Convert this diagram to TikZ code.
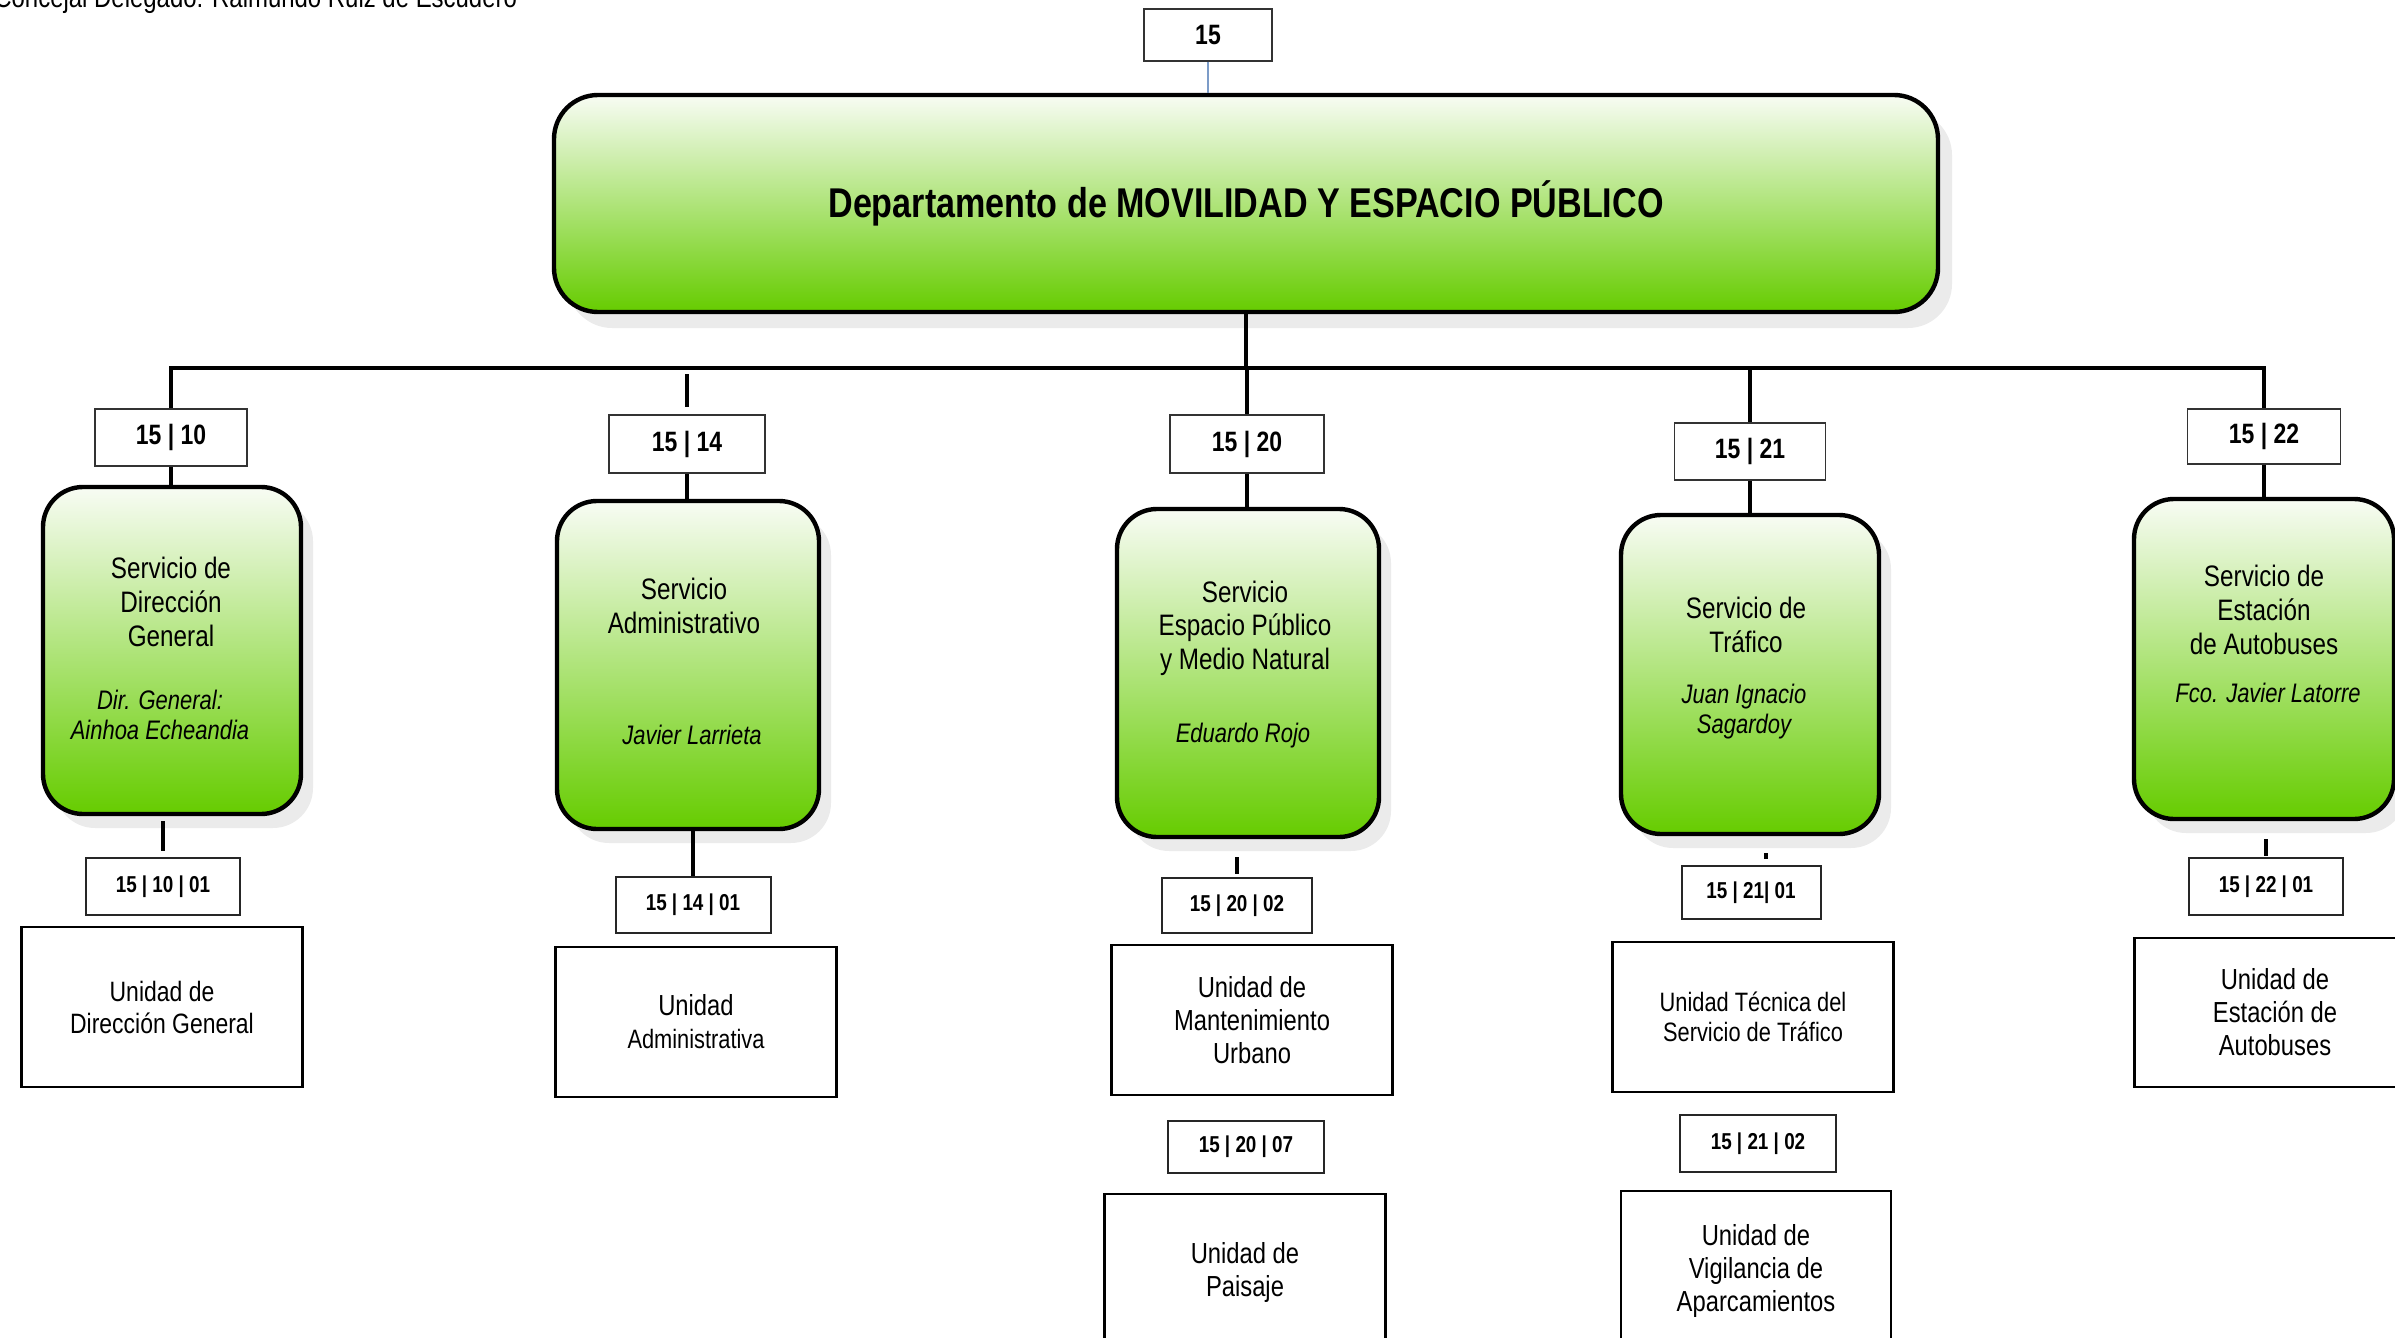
\documentclass[tikz,border=0pt]{standalone}
\usepackage{fontspec}
\setmainfont{Liberation Sans}[FakeStretch=0.82]
\usetikzlibrary{shadows}
\definecolor{gtop}{HTML}{F8FCF4}
\definecolor{gbot}{HTML}{66CC00}
\definecolor{shd}{HTML}{EBEBEB}
\definecolor{bluel}{HTML}{7C9CC8}
\tikzset{
 conn/.style={line width=2.2pt, black},
 gbox/.style={draw=black, line width=2.2pt, rounded corners=20pt, top color=gtop, bottom color=gbot,
   drop shadow={shadow xshift=6pt, shadow yshift=-7pt, fill=shd, opacity=1}},
 codebox/.style={draw=black!80, line width=0.75pt, fill=white, font=\bfseries\fontsize{14}{16}\selectfont, inner sep=0pt},
 subbox/.style={draw=black!85, line width=1pt, fill=white, font=\bfseries\fontsize{11.5}{13}\selectfont, inner sep=0pt},
 unitbox/.style={draw=black, line width=1.1pt, fill=white, inner sep=0pt, align=center, font=\fontsize{14.5}{16.5}\selectfont},
 svc/.style={align=center, font=\fontsize{14.8}{16.8}\selectfont, inner sep=0pt},
 nm/.style={align=center, font=\itshape\fontsize{13.4}{15.2}\selectfont, inner sep=0pt},
}
\begin{document}
\begin{tikzpicture}[x=0.5pt,y=-0.5pt]
\useasboundingbox (0,0) rectangle (2395,1338);
\node[anchor=base west, inner sep=0pt, font=\fontsize{14.6}{16}\selectfont] (conc) at (-6,8) {Concejal Delegado: Raimundo Ruiz de Escudero};

% top
\node[codebox, minimum width=64pt, minimum height=26pt] (top15) at (1208,35) {15};
\node[gbox, rounded corners=22pt, minimum width=692pt, minimum height=108.5pt, font=\bfseries\fontsize{20.8}{24}\selectfont,
  drop shadow={shadow xshift=7pt, shadow yshift=-8pt, fill=shd, opacity=1}] (main) at (1246,203.5) {Departamento de MOVILIDAD Y ESPACIO PÚBLICO};
\draw[bluel, line width=0.8pt] (top15.south) -- (top15.south |- main.north);

\coordinate (bus) at (1246,368);

% column 1
\node[codebox, minimum width=76pt, minimum height=28.5pt] (code1) at (171,437.5) {15 | 10};
\node[gbox, minimum width=129pt, minimum height=163.5pt] (green1) at (172,650.5) {};
\node[svc] (s1) at (171,602) {Servicio de\\Dirección\\General};
\node[nm] (n1) at (160,715) {Dir. General:\\Ainhoa Echeandia};
\node[subbox, minimum width=77pt, minimum height=28.5pt] (sub1) at (163,886.5) {15 | 10 | 01};
\node[unitbox, minimum width=140.5pt, minimum height=80pt, font=\fontsize{14}{16}\selectfont] (unit1) at (162,1007) {Unidad de\\Dirección General};

% column 2
\node[codebox, minimum width=78pt, minimum height=29pt] (code2) at (687,444) {15 | 14};
\node[gbox, minimum width=131pt, minimum height=164pt] (green2) at (688,665) {};
\node[svc] (s2) at (684,606) {Servicio\\Administrativo};
\node[nm] (n2) at (692,735) {Javier Larrieta};
\node[subbox, minimum width=77.5pt, minimum height=28pt] (sub2) at (693,905) {15 | 14 | 01};
\node[unitbox, minimum width=140.5pt, minimum height=75pt] (unit2) at (696,1022) {\fontsize{14.5}{16.5}\selectfont Unidad\\\fontsize{13.3}{16.5}\selectfont Administrativa};

% column 3
\node[codebox, minimum width=77pt, minimum height=29pt] (code3) at (1247,444) {15 | 20};
\node[gbox, minimum width=131pt, minimum height=164pt] (green3) at (1248,673) {};
\node[svc] (s3) at (1245,628) {Servicio\\Espacio Público\\y Medio Natural};
\node[nm] (n3) at (1243,736) {Eduardo Rojo};
\node[subbox, minimum width=75pt, minimum height=27.5pt] (sub3a) at (1237,905.5) {15 | 20 | 02};
\node[unitbox, minimum width=140.5pt, minimum height=75pt] (unit3a) at (1252,1020) {Unidad de\\Mantenimiento\\Urbano};
\node[subbox, minimum width=78pt, minimum height=26pt] (sub3b) at (1246,1147) {15 | 20 | 07};
\node[unitbox, minimum width=140.5pt, minimum height=78pt] (unit3b) at (1245,1272) {Unidad de\\Paisaje};

% column 4
\node[codebox, minimum width=75.5pt, minimum height=28.5pt] (code4) at (1750,451.5) {15 | 21};
\node[gbox, minimum width=129pt, minimum height=159.5pt] (green4) at (1750,674.5) {};
\node[svc] (s4) at (1746,625) {Servicio de\\Tráfico};
\node[nm] (n4) at (1744,711.5) {Juan Ignacio\\Sagardoy};
\node[subbox, minimum width=69.5pt, minimum height=26.5pt] (sub4a) at (1751,892.5) {15 | 21| 01};
\node[unitbox, minimum width=140.5pt, minimum height=75pt, font=\fontsize{13.3}{14.8}\selectfont] (unit4a) at (1753,1017) {Unidad Técnica del\\Servicio de Tráfico};
\node[subbox, minimum width=78pt, minimum height=28.5pt] (sub4b) at (1758,1143.5) {15 | 21 | 02};
\node[unitbox, minimum width=135pt, minimum height=79.5pt] (unit4b) at (1756,1270.5) {Unidad de\\Vigilancia de\\Aparcamientos};

% column 5
\node[codebox, minimum width=76.5pt, minimum height=27.5pt] (code5) at (2264,436.5) {15 | 22};
\node[gbox, minimum width=130pt, minimum height=160pt] (green5) at (2264,659) {};
\node[svc] (s5) at (2264,610) {Servicio de\\Estación\\de Autobuses};
\node[nm] (n5) at (2268,693) {Fco. Javier Latorre};
\node[subbox, minimum width=77pt, minimum height=28.5pt] (sub5) at (2266,886.5) {15 | 22 | 01};
\node[unitbox, minimum width=140.5pt, minimum height=74.5pt] (unit5) at (2275,1012.5) {Unidad de\\Estación de\\Autobuses};

% connectors
\draw[conn] (main.south) -- (main.south |- bus);
\draw[conn] (code1.north) |- (bus) -| (code5.north);
\draw[conn, shorten <=3pt, shorten >=3.5pt] (code2.north |- bus) -- (code2.north);
\draw[conn] (code3.north |- bus) -- (code3.north);
\draw[conn] (code4.north |- bus) -- (code4.north);

\draw[conn] (code1.south) -- (code1.south |- green1.north);
\draw[conn] (code2.south) -- (code2.south |- green2.north);
\draw[conn] (code3.south) -- (code3.south |- green3.north);
\draw[conn] (code4.south) -- (code4.south |- green4.north);
\draw[conn] (code5.south) -- (code5.south |- green5.north);

\draw[conn, shorten <=2.5pt, shorten >=3pt] (sub1.north |- green1.south) -- (sub1.north);
\draw[conn] (sub2.north |- green2.south) -- (sub2.north);
\draw[conn, shorten <=9pt, shorten >=1.5pt] (sub3a.north |- green3.south) -- (sub3a.north);
\draw[conn, shorten <=8.5pt, shorten >=3pt] ([xshift=7.5pt]sub4a.north |- green4.south) -- ([xshift=7.5pt]sub4a.north);
\draw[conn, shorten <=9pt, shorten >=0.5pt] (sub5.north |- green5.south) -- (sub5.north);
\end{tikzpicture}
\end{document}
